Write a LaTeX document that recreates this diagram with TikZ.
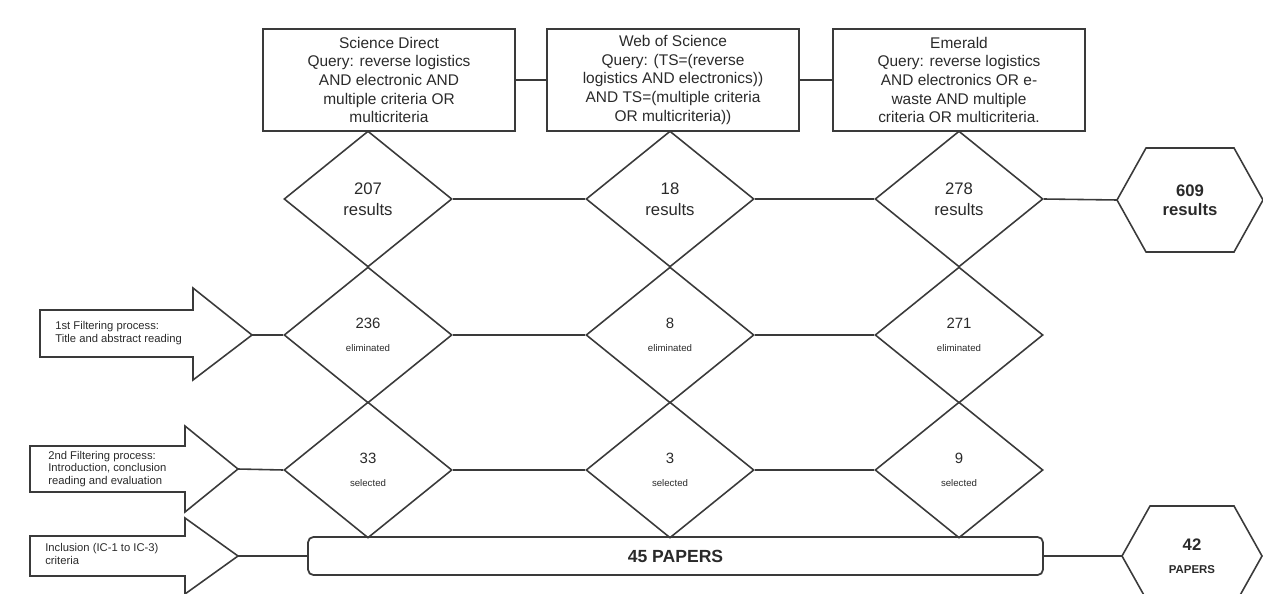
\documentclass[tikz,border=0pt]{standalone}
\usepackage{fontspec}
\setmainfont{Liberation Sans}
\usetikzlibrary{shapes.geometric,calc}
\definecolor{ln}{HTML}{3A3A3A}
\definecolor{tx}{HTML}{2A2A2A}
\begin{document}
\begin{tikzpicture}[x=0.02cm,y=-0.02cm,
  qbox/.style={draw=ln,line width=1.2pt,minimum width=5.04cm,minimum height=2.04cm,align=center,
    font=\fontsize{8.8}{10.6}\selectfont,text=tx,inner sep=0pt},
  dia/.style={diamond,draw=ln,line width=0.9pt,minimum width=3.36cm,minimum height=2.72cm,
    inner sep=0pt,align=center,text=tx},
  link/.style={draw=ln,line width=0.9pt},
  arrowshape/.style={draw=ln,line width=0.9pt,line join=miter},
  atext/.style={anchor=west,align=left,text=tx,font=\fontsize{6.4}{7}\selectfont,inner sep=0pt},
  big/.style={font=\fontsize{9.5}{11}\selectfont\bfseries},
  small/.style={font=\fontsize{6}{7}\selectfont}
]
\path[use as bounding box] (0,0) rectangle (1263,594);
\clip (0,0) rectangle (1263,594);

% query boxes
\node[qbox] (b1) at (389,80) {Science Direct\\Query: reverse logistics\\AND electronic AND\\multiple criteria OR\\multicriteria};
\node[qbox] (b2) at (673,80) {Web of Science\\Query: (TS=(reverse\\logistics AND electronics))\\AND TS=(multiple criteria\\OR multicriteria))};
\node[qbox] (b3) at (959,80) {Emerald\\Query: reverse logistics\\AND electronics OR e-\\waste AND multiple\\criteria OR multicriteria.};
\draw[link] (b1.east) -- (b2.west);
\draw[link] (b2.east) -- (b3.west);

% row 1
\node[dia] (d11) at (368,199) {{\fontsize{9.5}{11}\selectfont 207}\\{\fontsize{9.5}{11}\selectfont results}};
\node[dia] (d12) at (670,199) {{\fontsize{9.5}{11}\selectfont 18}\\{\fontsize{9.5}{11}\selectfont results}};
\node[dia] (d13) at (959,199) {{\fontsize{9.5}{11}\selectfont 278}\\{\fontsize{9.5}{11}\selectfont results}};
\node[big,align=center,text=tx] (h1) at (1190,200) {609\\results};
\draw[link] ($(h1)+(-73,0)$) coordinate (h1w) -- ($(h1)+(-44,-52)$) -- ($(h1)+(44,-52)$) -- ($(h1)+(73,0)$)
  -- ($(h1)+(44,52)$) -- ($(h1)+(-44,52)$) -- cycle;
\draw[link] (d11.east) -- (d12.west);
\draw[link] (d12.east) -- (d13.west);
\draw[link] (d13.east) -- (h1w);

% row 2
\node[dia] (d21) at (368,335) {{\fontsize{8.5}{10}\selectfont 236}\\[1pt]{\fontsize{5.5}{6.5}\selectfont eliminated}};
\node[dia] (d22) at (670,335) {{\fontsize{8.5}{10}\selectfont 8}\\[1pt]{\fontsize{5.5}{6.5}\selectfont eliminated}};
\node[dia] (d23) at (959,335) {{\fontsize{8.5}{10}\selectfont 271}\\[1pt]{\fontsize{5.5}{6.5}\selectfont eliminated}};
\draw[link] (d21.east) -- (d22.west);
\draw[link] (d22.east) -- (d23.west);

% row 3
\node[dia] (d31) at (368,470) {{\fontsize{8.5}{10}\selectfont 33}\\[1pt]{\fontsize{5.5}{6.5}\selectfont selected}};
\node[dia] (d32) at (670,470) {{\fontsize{8.5}{10}\selectfont 3}\\[1pt]{\fontsize{5.5}{6.5}\selectfont selected}};
\node[dia] (d33) at (959,470) {{\fontsize{8.5}{10}\selectfont 9}\\[1pt]{\fontsize{5.5}{6.5}\selectfont selected}};
\draw[link] (d31.east) -- (d32.west);
\draw[link] (d32.east) -- (d33.west);

% bar
\node[draw=ln,line width=1pt,rounded corners=3pt,minimum width=14.7cm,minimum height=0.76cm,
  inner sep=0pt,text=tx,font=\fontsize{10}{12}\selectfont\bfseries] (bar) at (675.5,556) {45 PAPERS};
\node[align=center,text=tx,inner sep=0pt] (h2) at (1192,556) {{\fontsize{9.5}{11}\selectfont\bfseries 42}\\[1pt]{\fontsize{6.5}{7.5}\selectfont\bfseries PAPERS}};
\draw[link] ($(h2)+(-70,0)$) coordinate (h2w) -- ($(h2)+(-42,-50)$) -- ($(h2)+(42,-50)$) -- ($(h2)+(70,0)$)
  -- ($(h2)+(42,50)$) -- ($(h2)+(-42,50)$) -- cycle;
\draw[link] (bar.east) -- (h2w);

% left arrows
\draw[arrowshape] (40,310) -- (193,310) -- (193,288) -- (252,335) coordinate (a1) -- (193,380) -- (193,357) -- (40,357) -- cycle;
\node[atext] (t1) at (55,333) {1st Filtering process:\\Title and abstract reading};
\draw[link] (a1) -- (d21.west);

\draw[arrowshape] (30,446) -- (185,446) -- (185,426) -- (238,469) coordinate (a2) -- (185,512) -- (185,492) -- (30,492) -- cycle;
\node[atext] (t2) at (48,469) {2nd Filtering process:\\Introduction, conclusion\\reading and evaluation};
\draw[link] (a2) -- (d31.west);

\draw[arrowshape] (30,536) -- (185,536) -- (185,518) -- (238,556) coordinate (a3) -- (185,594) -- (185,576) -- (30,576) -- cycle;
\node[atext] (t3) at (45,554) {Inclusion (IC-1 to IC-3)\\criteria};
\draw[link] (a3) -- (bar.west);
\end{tikzpicture}
\end{document}
